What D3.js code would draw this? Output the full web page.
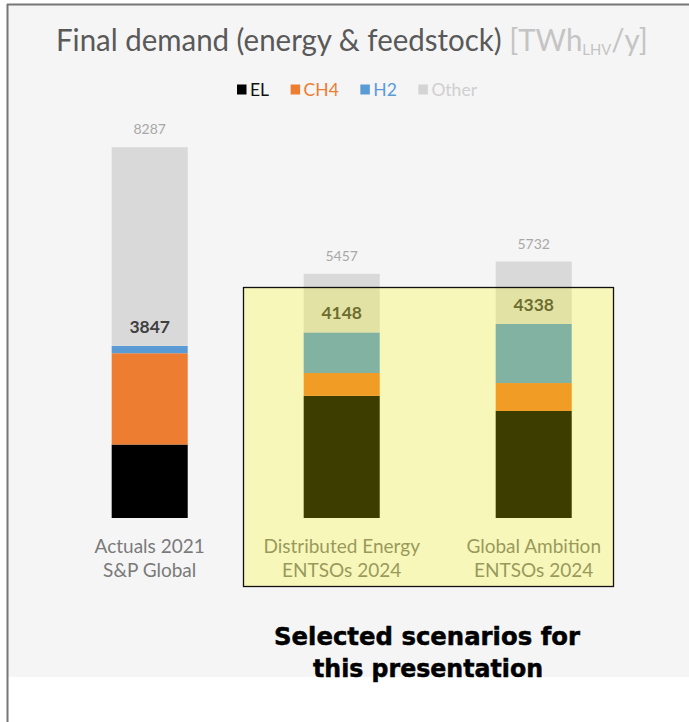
<!DOCTYPE html>
<html><head><meta charset="utf-8">
<script src="https://cdn.jsdelivr.net/npm/d3@7"></script>
<style>html,body{margin:0;padding:0;background:#fff;}svg{display:block;}</style>
</head><body>
<script>
// ---- data ----
const categories = ["Actuals 2021|S&P Global", "Distributed Energy|ENTSOs 2024", "Global Ambition|ENTSOs 2024"];
const seriesNames = ["EL", "CH4", "H2", "Other"];
const EL    = [1642, 2730, 2392];
const CH4   = [2040,  510,  624];
const H2    = [ 165,  908, 1322];
const Other = [4440, 1309, 1394];
const subtotalLabels = [3847, 4148, 4338];
const totalLabels = [8287, 5457, 5732];
const seriesColors = ["#000000", "#ed7d31", "#5b9bd5", "#d9d9d9"];
const legendTextColors = ["#111111", "#ed7d31", "#5b9bd5", "#cfcfcf"];

const W = 689, H = 722;
const svg = d3.select("body").append("svg").attr("width", W).attr("height", H);

// background panel and frame
svg.append("rect").attr("x", 0).attr("y", 0).attr("width", W).attr("height", H).attr("fill", "#ffffff");
svg.append("rect").attr("x", 8).attr("y", 5).attr("width", W - 8).attr("height", 672).attr("fill", "#f5f5f5");
svg.append("line").attr("x1", 7.5).attr("x2", 7.5).attr("y1", 4).attr("y2", H).attr("stroke", "#777").attr("stroke-width", 2);
svg.append("line").attr("x1", 7).attr("x2", W).attr("y1", 4.5).attr("y2", 4.5).attr("stroke", "#777").attr("stroke-width", 2);

// title
const titleG = svg.append("g");
const title = titleG.append("text").attr("x", 0).attr("y", 0)
  .attr("font-family", "Lato, 'Open Sans', sans-serif").attr("font-size", 31);
title.append("tspan").attr("fill", "#595959").text("Final demand (energy & feedstock) ");
title.append("tspan").attr("fill", "#c4c4c4").text("[TWh");
title.append("tspan").attr("fill", "#c4c4c4").attr("font-size", "0.5em").attr("dy", 4).text("LHV");
title.append("tspan").attr("fill", "#c4c4c4").attr("dy", -4).text("/y]");
{
  const target = 648 - 56;
  const w = title.node().getComputedTextLength();
  titleG.attr("transform", `translate(56,51) scale(${target / w},1)`);
}

// scales
const x = d3.scaleBand().domain(categories).range([53.7, 629.7]).paddingInner(0.604).paddingOuter(0.302);
const y = d3.scaleLinear().domain([0, 8300]).range([518, 146.6]);

const rows = categories.map((c, i) => ({cat: c, EL: EL[i], CH4: CH4[i], H2: H2[i], Other: Other[i]}));
const stack = d3.stack().keys(seriesNames)(rows);
const color = d3.scaleOrdinal().domain(seriesNames).range(seriesColors);

svg.append("g").selectAll("g").data(stack).join("g")
  .attr("fill", d => color(d.key))
  .selectAll("rect").data(d => d).join("rect")
  .attr("x", d => x(d.data.cat))
  .attr("width", x.bandwidth())
  .attr("y", d => y(d[1]))
  .attr("height", d => y(d[0]) - y(d[1]));

// subtotal labels (EL+CH4+H2)
svg.append("g").selectAll("text").data(categories).join("text")
  .attr("x", d => x(d) + x.bandwidth() / 2)
  .attr("y", (d, i) => y(EL[i] + CH4[i] + H2[i]) - 13)
  .attr("text-anchor", "middle")
  .attr("font-family", "Lato, sans-serif").attr("font-weight", 700).attr("font-size", 17.5)
  .attr("fill", "#404040")
  .text((d, i) => subtotalLabels[i]);

// total labels
svg.append("g").selectAll("text").data(categories).join("text")
  .attr("x", d => x(d) + x.bandwidth() / 2)
  .attr("y", (d, i) => y(EL[i] + CH4[i] + H2[i] + Other[i]) - 13)
  .attr("text-anchor", "middle")
  .attr("font-family", "Lato, sans-serif").attr("font-size", 14)
  .attr("fill", "#a8a8a8")
  .text((d, i) => totalLabels[i]);

// category labels
const cl = svg.append("g").selectAll("text").data(categories).join("text")
  .attr("text-anchor", "middle")
  .attr("font-family", "Lato, sans-serif").attr("font-size", 19)
  .attr("fill", "#7a7a7a");
cl.each(function(d) {
  const parts = d.split("|");
  const t = d3.select(this);
  parts.forEach((p, k) => {
    t.append("tspan").attr("x", x(d) + x.bandwidth() / 2).attr("y", 553 + k * 24).text(p);
  });
});

// legend
const lg = svg.append("g").attr("font-family", "Lato, sans-serif").attr("font-size", 17.5);
const items = [];
seriesNames.forEach((s, i) => {
  const g = lg.append("g");
  g.append("rect").attr("x", 0).attr("y", 84.5).attr("width", 9.5).attr("height", 10).attr("fill", i === 3 ? "#d4d4d4" : seriesColors[i]);
  const t = g.append("text").attr("x", 13).attr("y", 95.5).attr("fill", legendTextColors[i]).text(s);
  const w = 13 + t.node().getComputedTextLength();
  items.push({g, w});
});
{
  const left = 237, right = 477;
  const gap = (right - left - d3.sum(items, d => d.w)) / (items.length - 1);
  let cx = left;
  items.forEach(it => { it.g.attr("transform", `translate(${cx},0)`); cx += it.w + gap; });
}

// highlight overlay for selected scenarios
svg.append("rect").attr("x", 243.5).attr("y", 287.5).attr("width", 370).attr("height", 299)
  .attr("fill", "rgba(255,255,0,0.24)").attr("stroke", "#111").attr("stroke-width", 1.3);

// annotation
const ann = svg.append("text").attr("text-anchor", "middle")
  .attr("font-family", "'DejaVu Sans', sans-serif").attr("font-weight", 700).attr("font-size", 25)
  .attr("fill", "#000").attr("stroke", "#000").attr("stroke-width", 0.5);
ann.append("tspan").attr("x", 427).attr("y", 645).text("Selected scenarios for");
ann.append("tspan").attr("x", 428).attr("y", 677).text("this presentation");
ann.selectAll("tspan").each(function(d, i) {
  const target = i === 0 ? 306 : 230;
  const w = this.getComputedTextLength();
  if (w > target) d3.select(this).attr("textLength", target).attr("lengthAdjust", "spacingAndGlyphs");
});
</script>
</body></html>
